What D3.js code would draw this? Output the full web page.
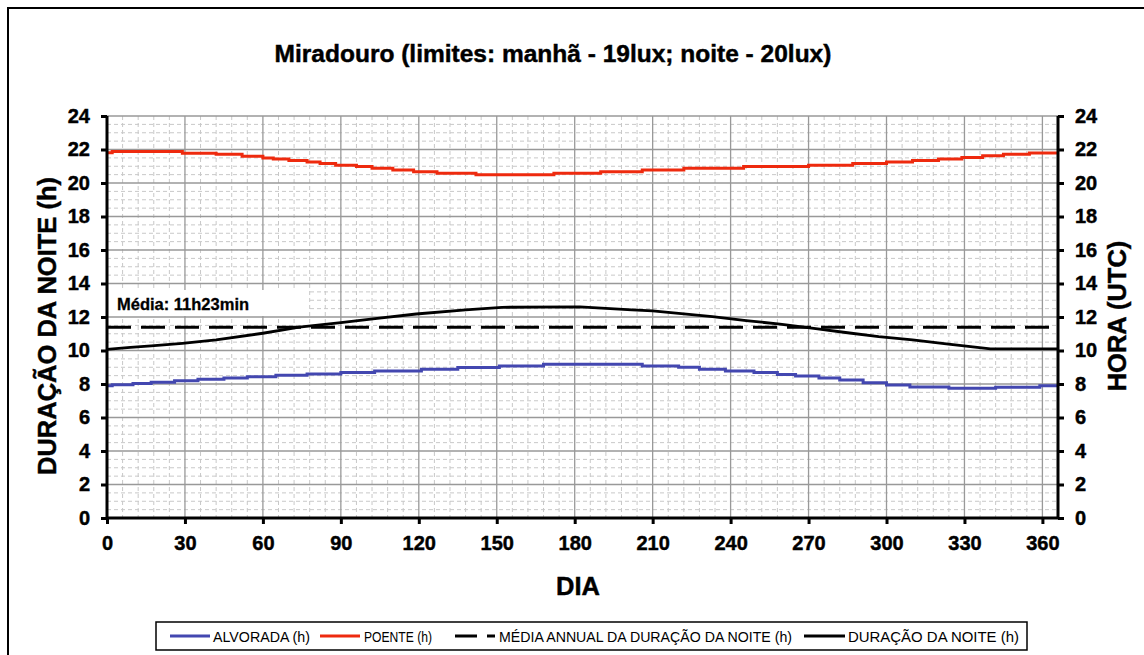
<!DOCTYPE html>
<html><head><meta charset="utf-8">
<script src="https://cdn.jsdelivr.net/npm/d3@7/dist/d3.min.js"></script>
<style>body{margin:0;background:#fff}svg{display:block}text{font-family:"Liberation Sans",Arial,sans-serif}
.heavy{stroke:#000;stroke-width:0.45px}</style>
</head><body><svg id="c" width="1144" height="655"></svg>
<script>
const titleText = "Miradouro (limites: manhã - 19lux; noite - 20lux)";
const xTicks = [0,30,60,90,120,150,180,210,240,270,300,330,360];
const yTicks = [0,2,4,6,8,10,12,14,16,18,20,22,24];
const seriesNames = ["ALVORADA (h)","POENTE (h)","MÉDIA ANNUAL DA DURAÇÃO DA NOITE (h)","DURAÇÃO DA NOITE (h)"];

const poenteDays  = [0,2,29,42,52,60,64,70,77,82,88,96,102,110,118,127,142,172,190,206,222,245,270,287,300,310,320,329,337,345,355,366];
const poenteHours = [21.8,21.88,21.78,21.71,21.6,21.5,21.44,21.35,21.25,21.17,21.06,20.98,20.88,20.77,20.67,20.58,20.5,20.58,20.67,20.77,20.88,20.98,21.06,21.17,21.25,21.35,21.44,21.52,21.63,21.71,21.79,21.79];

const alvoradaDays  = [0,2,10,17,26,35,45,54,65,77,90,103,121,135,151,168,206,220,228,238,249,258,265,274,282,291,300,309,324,342,359,366];
const alvoradaHours = [7.9,7.95,8.03,8.1,8.2,8.28,8.36,8.44,8.52,8.6,8.68,8.78,8.88,8.98,9.08,9.18,9.07,9.0,8.88,8.78,8.68,8.56,8.48,8.36,8.24,8.08,7.94,7.82,7.74,7.8,7.9,7.9];

const noiteDays  = [0,9,17,29,42,60,74,90,104,119,138,152,182,192,202,210,220,233,246,259,272,285,297,310,323,340,366];
const noiteHours = [10.07,10.19,10.27,10.43,10.63,11.03,11.39,11.66,11.92,12.18,12.42,12.58,12.6,12.52,12.42,12.36,12.22,12.02,11.78,11.58,11.32,11.06,10.83,10.63,10.39,10.1,10.1];

const mediaHours = 11 + 23/60;
const mediaLabel = "Média: 11h23min";

const svg = d3.select("#c");
const L = 107, R = 1058, T = 116, B = 518;
const x = d3.scaleLinear().domain([0,366]).range([L,R]);
const y = d3.scaleLinear().domain([0,24]).range([B,T]);

// outer border
svg.append("rect").attr("x",8).attr("y",8).attr("width",1200).attr("height",700)
  .attr("fill","none").attr("stroke","#000").attr("stroke-width",2);

// title
svg.append("text").attr("class","heavy").attr("x",553).attr("y",62).attr("text-anchor","middle")
  .attr("font-size",24.5).attr("font-weight","bold").text(titleText);

const g = svg.append("g");
// minor grid
const minorX = d3.range(6,366,6).filter(d=>d%30!==0);
const minorY = d3.range(0.5,24,0.5).filter(d=>d%2!==0);
g.selectAll(".mx").data(minorX).join("line")
  .attr("x1",d=>x(d)).attr("x2",d=>x(d)).attr("y1",T).attr("y2",B)
  .attr("stroke","#c8c8c8").attr("stroke-dasharray","4,3");
g.selectAll(".my").data(minorY).join("line")
  .attr("y1",d=>y(d)).attr("y2",d=>y(d)).attr("x1",L).attr("x2",R)
  .attr("stroke","#c8c8c8").attr("stroke-dasharray","4,3");
// major grid
g.selectAll(".Mx").data(xTicks.filter(d=>d>0)).join("line")
  .attr("x1",d=>x(d)).attr("x2",d=>x(d)).attr("y1",T).attr("y2",B)
  .attr("stroke","#999").attr("stroke-width",1.3);
g.selectAll(".My").data(yTicks.filter(d=>d>0)).join("line")
  .attr("y1",d=>y(d)).attr("y2",d=>y(d)).attr("x1",L).attr("x2",R)
  .attr("stroke","#999").attr("stroke-width",1.3);

// media label box
svg.append("rect").attr("x",L+1).attr("y",290).attr("width",201).attr("height",26).attr("fill","#fff");
svg.append("text").attr("x",117).attr("y",310).attr("font-size",16.5).attr("font-weight","bold")
  .attr("stroke","#000").attr("stroke-width",0.3).text(mediaLabel);

// lines
const step = d3.line().x(d=>x(d[0])).y(d=>y(d[1])).curve(d3.curveStepAfter);
const lin = d3.line().x(d=>x(d[0])).y(d=>y(d[1]));
svg.append("path").attr("d",step(d3.zip(alvoradaDays,alvoradaHours))).attr("fill","none")
  .attr("stroke","#4347b0").attr("stroke-width",3);
svg.append("path").attr("d",step(d3.zip(poenteDays,poenteHours))).attr("fill","none")
  .attr("stroke","#ee2a0e").attr("stroke-width",3);
svg.append("path").attr("d",lin([[0,mediaHours],[366,mediaHours]])).attr("fill","none")
  .attr("stroke","#000").attr("stroke-width",3).attr("stroke-dasharray","24,10");
svg.append("path").attr("d",lin(d3.zip(noiteDays,noiteHours))).attr("fill","none")
  .attr("stroke","#000").attr("stroke-width",2.8);

// axes
const fs = 20;
const axL = svg.append("g").attr("transform",`translate(${L},0)`).call(d3.axisLeft(y).tickValues(yTicks).tickSize(6).tickPadding(11));
const axR = svg.append("g").attr("transform",`translate(${R},0)`).call(d3.axisRight(y).tickValues(yTicks).tickSize(6).tickPadding(11));
const axB = svg.append("g").attr("transform",`translate(0,${B})`).call(d3.axisBottom(x).tickValues(xTicks).tickSize(6).tickPadding(12));
[axL,axR,axB].forEach(a=>{
  a.select(".domain").attr("stroke","#000").attr("stroke-width",3);
  a.selectAll(".tick line").attr("stroke","#000").attr("stroke-width",3);
  a.selectAll(".tick text").attr("font-size",fs).attr("font-weight","bold").attr("fill","#000")
    .attr("class","heavy").attr("font-family","'Liberation Sans',Arial,sans-serif");
});
axL.select(".domain").attr("d",`M0,${B}V${T}`);
axR.select(".domain").attr("d",`M0,${B}V${T}`);
axB.select(".domain").attr("d",`M${L},0H${R}`);

// axis titles
svg.append("text").attr("class","heavy").attr("transform","translate(56,326) rotate(-90)").attr("text-anchor","middle")
  .attr("font-size",25.5).attr("font-weight","bold").text("DURAÇÃO DA NOITE (h)");
svg.append("text").attr("class","heavy").attr("transform","translate(1126,316) rotate(-90)").attr("text-anchor","middle")
  .attr("font-size",25.5).attr("font-weight","bold").text("HORA (UTC)");
svg.append("text").attr("class","heavy").attr("x",578).attr("y",595).attr("text-anchor","middle")
  .attr("font-size",25.5).attr("font-weight","bold").text("DIA");

// legend
svg.append("rect").attr("x",156).attr("y",622).attr("width",871).attr("height",28)
  .attr("fill","#fff").attr("stroke","#000").attr("stroke-width",1.5);
const legItems = [
  {x1:170,x2:210,tx:213,tw:97,color:"#4347b0",dash:null},
  {x1:320,x2:360,tx:364,tw:68,color:"#ee2a0e",dash:null},
  {x1:455,x2:495,tx:499,tw:293,color:"#000",dash:"22,10"},
  {x1:804,x2:845,tx:848,tw:171,color:"#000",dash:null}
];
legItems.forEach((it,i)=>{
  svg.append("line").attr("x1",it.x1).attr("x2",it.x2).attr("y1",636).attr("y2",636)
    .attr("stroke",it.color).attr("stroke-width",3).attr("stroke-dasharray",it.dash);
  svg.append("text").attr("x",it.tx).attr("y",642).attr("font-size",14.5)
    .attr("textLength",it.tw).attr("lengthAdjust","spacingAndGlyphs").text(seriesNames[i]);
});
</script></body></html>
